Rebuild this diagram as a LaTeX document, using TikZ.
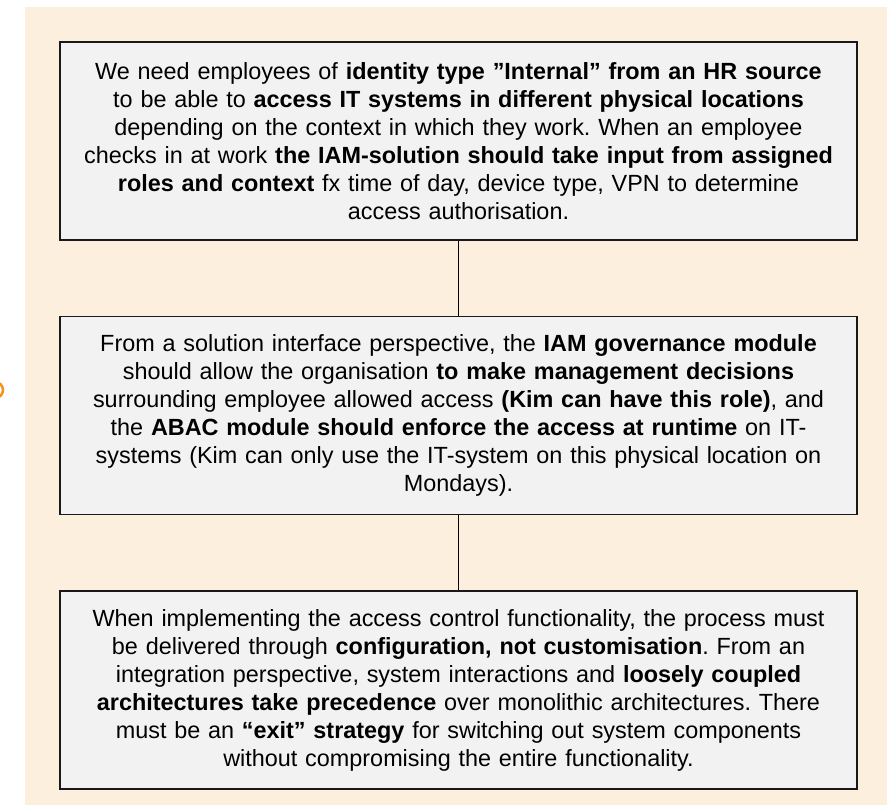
\documentclass[tikz,border=0pt]{standalone}
\usepackage{fontspec}
\setmainfont{Liberation Sans}
\usetikzlibrary{positioning}
\definecolor{notebg}{RGB}{253,239,221}
\definecolor{boxfill}{RGB}{242,242,242}
\definecolor{markorange}{RGB}{245,145,30}

\begin{document}
\frenchspacing
\begin{tikzpicture}[x=1pt,y=-1pt,node distance=75pt,
    reqbox/.style={draw=black!90,line width=1.6pt,fill=boxfill,minimum width=797pt,
      minimum height=198pt,text width=785pt,align=center,inner sep=0pt,
      font=\fontsize{23.4}{28}\selectfont},
    link/.style={line width=1.6pt}]
  \useasboundingbox (0,0) rectangle (896,805);
  \fill[notebg] (25,7) rectangle (887,805);
  % cut-off mark on the left edge
  \draw[markorange,line width=2.5pt] (-5,390) circle (8);

  \node[reqbox] (need) at (458.5,141) {We need employees of \textbf{identity type ”Internal” from an HR source}\\
    to be able to \textbf{access IT systems in different physical locations}\\
    depending on the context in which they work. When an employee\\
    checks in at work \textbf{the IAM-solution should take input from assigned}\\
    \textbf{roles and context} fx time of day, device type, VPN to determine\\
    access authorisation.};
  \node[reqbox,below=of need] (iface) {From a solution interface perspective, the \textbf{IAM governance module}\\
    should allow the organisation \textbf{to make management decisions}\\
    surrounding employee allowed access \textbf{(Kim can have this role)}, and\\
    the \textbf{ABAC module should enforce the access at runtime} on IT-\\
    systems (Kim can only use the IT-system on this physical location on\\
    Mondays).};
  \node[reqbox,below=of iface] (impl) {When implementing the access control functionality, the process must\\
    be delivered through \textbf{configuration, not customisation}. From an\\
    integration perspective, system interactions and \textbf{loosely coupled}\\
    \textbf{architectures take precedence} over monolithic architectures. There\\
    must be an \textbf{“exit” strategy} for switching out system components\\
    without compromising the entire functionality.};

  \draw[link] (need) -- (iface);
  \draw[link] (iface) -- (impl);
\end{tikzpicture}
\end{document}
